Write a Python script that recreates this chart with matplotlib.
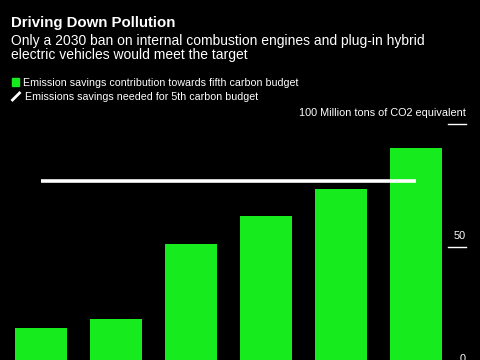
import numpy as np
import matplotlib.pyplot as plt
from matplotlib.lines import Line2D
from matplotlib.patches import Rectangle
import matplotlib.transforms as mtransforms

plt.rcParams['font.family'] = ['Liberation Sans', 'DejaVu Sans']

# emission savings per scenario (100 million tons CO2e)
savings = [17.2, 20.7, 51.3, 62.6, 73.5, 90.1]
# savings needed for the 5th carbon budget
needed = [77.0, 77.0]
yticks = [0, 50, 100]
ytick_labels = ["0", "50", "100 Million tons of CO2 equivalent"]

green = '#16eb1e'
fig = plt.figure(figsize=(4.8, 3.6), dpi=100, facecolor='black')

# axes runs off the bottom of the picture, like the reference crop
ax = fig.add_axes([0.0, -10 / 360, 445 / 480, 246 / 360])
ax.set_facecolor('black')
x = np.arange(len(savings))
ax.bar(x, savings, width=0.7, color=green, zorder=2)
ax.plot([x[0], x[-1]], needed, color='white', lw=2.6, solid_capstyle='butt', zorder=3)
ax.set_xlim(-41 / 75, 404 / 75)
ax.set_ylim(0, 100)
ax.axis('off')

# right-hand ticks: short line under each label
tr = mtransforms.blended_transform_factory(ax.transAxes, ax.transData)
for v, lab in zip(yticks, ytick_labels):
    ax.plot([448 / 445, 466 / 445], [v, v], color='white', lw=1, transform=tr, clip_on=False)
    ax.text(466 / 445, v + 2.3, lab, color='white', fontsize=7.8, ha='right', va='bottom',
            transform=tr, clip_on=False)

def fy(py):
    return 1 - py / 360

fig.text(11 / 480, fy(27), "Driving Down Pollution", color='white', fontsize=10.8,
         fontweight='bold', va='baseline')
fig.text(11 / 480, fy(45), "Only a 2030 ban on internal combustion engines and plug-in hybrid",
         color='white', fontsize=10, va='baseline')
fig.text(11 / 480, fy(59.5), "electric vehicles would meet the target",
         color='white', fontsize=10, va='baseline')

# legend
fig.patches.append(Rectangle((12 / 480, fy(85.5)), 7 / 480, 7 / 360, color=green,
                             transform=fig.transFigure))
fig.text(23 / 480, fy(85.5), "Emission savings contribution towards fifth carbon budget",
         color='white', fontsize=7.7, va='baseline')
fig.lines.append(Line2D([12.5 / 480, 19.5 / 480], [fy(100), fy(93)], color='white', lw=2,
                        transform=fig.transFigure))
fig.text(25 / 480, fy(100.5), "Emissions savings needed for 5th carbon budget",
         color='white', fontsize=7.7, va='baseline')

fig.savefig('out.png', dpi=100, facecolor='black')
